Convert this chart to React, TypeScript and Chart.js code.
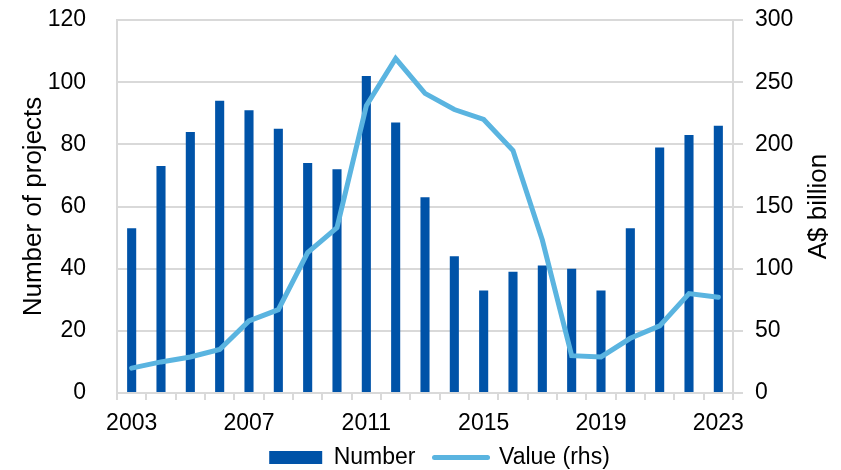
import React, { useEffect, useRef } from "react";
import { Chart, registerables } from "chart.js";

Chart.register(...registerables);

const years = ["2003","2004","2005","2006","2007","2008","2009","2010","2011","2012","2013","2014","2015","2016","2017","2018","2019","2020","2021","2022","2023"];
const numberOfProjects = [53, 73, 84, 94, 91, 85, 74, 72, 102, 87, 63, 44, 33, 39, 41, 40, 33, 53, 79, 83, 86];
const valueRhs = [20, 25, 29, 35, 58, 67, 113, 133, 231, 269, 241, 228, 220, 195, 123, 30, 29, 44, 54, 80, 77];
const leftTitle = "Number of projects";
const rightTitle = "A$ billion";
const barLabel = "Number";
const lineLabel = "Value (rhs)";

const BAR_COLOR = "#0053A8";
const LINE_COLOR = "#5AB4E0";
const GRID_COLOR = "#D9D9D9";
const FONT = "'Liberation Sans', Arial, sans-serif";

const titlesPlugin = {
  id: "axisTitles",
  afterDraw(chart: any) {
    const { ctx, chartArea } = chart;
    const cy = (chartArea.top + chartArea.bottom) / 2;
    const draw = (text: string, x: number) => {
      ctx.save();
      ctx.fillStyle = "#000";
      ctx.font = `26px ${FONT}`;
      ctx.textAlign = "center";
      ctx.textBaseline = "middle";
      ctx.translate(x, cy);
      ctx.rotate(-Math.PI / 2);
      ctx.fillText(text, 0, 0);
      ctx.restore();
    };
    draw(leftTitle, 34);
    draw(rightTitle, 819);
  },
};

export default function App() {
  const ref = useRef<HTMLCanvasElement | null>(null);
  useEffect(() => {
    if (!ref.current) return;
    const chart = new Chart(ref.current, {
      type: "bar",
      data: {
        labels: years,
        datasets: [
          {
            type: "bar",
            label: barLabel,
            data: numberOfProjects,
            backgroundColor: BAR_COLOR,
            borderWidth: 0,
            categoryPercentage: 1,
            barPercentage: 0.31,
            yAxisID: "y",
            order: 1,
          } as any,
          {
            type: "line",
            label: lineLabel,
            data: valueRhs,
            borderColor: LINE_COLOR,
            backgroundColor: LINE_COLOR,
            borderWidth: 5,
            borderCapStyle: "round",
            borderJoinStyle: "miter",
            pointRadius: 0,
            pointHoverRadius: 0,
            tension: 0,
            yAxisID: "y1",
            order: 0,
          } as any,
        ],
      },
      options: {
        responsive: false,
        animation: false,
        layout: { padding: { left: 40, right: 2, top: 20, bottom: -9 } },
        font: { family: FONT },
        plugins: {
          tooltip: { enabled: false },
          legend: {
            position: "bottom",
            labels: {
              color: "#000",
              font: { family: FONT, size: 23 },
              usePointStyle: true,
              pointStyleWidth: 53,
              boxHeight: 13,
              padding: 19,
              generateLabels: () => [
                {
                  text: barLabel,
                  fillStyle: BAR_COLOR,
                  strokeStyle: BAR_COLOR,
                  lineWidth: 0,
                  pointStyle: "rect",
                  datasetIndex: 0,
                  hidden: false,
                },
                {
                  text: lineLabel,
                  fillStyle: LINE_COLOR,
                  strokeStyle: LINE_COLOR,
                  lineWidth: 5,
                  lineCap: "round",
                  pointStyle: "line",
                  datasetIndex: 1,
                  hidden: false,
                },
              ],
            },
          } as any,
        },
        scales: {
          x: {
            offset: true,
            grid: {
              display: true,
              offset: true,
              drawOnChartArea: false,
              drawTicks: true,
              tickLength: 7,
              color: GRID_COLOR,
              lineWidth: 2,
            },
            border: { display: true, color: GRID_COLOR, width: 2 },
            ticks: {
              color: "#000",
              font: { family: FONT, size: 23 },
              padding: 10,
              autoSkip: false,
              maxRotation: 0,
              callback: (_v: any, i: number) => (i % 4 === 0 ? years[i] : ""),
            },
            afterFit: (s: any) => {
              s.height = 34;
              s._computeLabelArea = () => undefined;
            },
          },
          y: {
            position: "left",
            min: 0,
            max: 120,
            ticks: {
              stepSize: 20,
              color: "#000",
              font: { family: FONT, size: 23 },
              padding: 0,
            },
            grid: {
              color: GRID_COLOR,
              lineWidth: 2,
              drawTicks: true,
              tickLength: 31,
              tickColor: "rgba(0,0,0,0)",
            },
            border: { display: true, color: GRID_COLOR, width: 2 },
            afterFit: (s: any) => {
              s.width = 77;
            },
          },
          y1: {
            position: "right",
            min: 0,
            max: 300,
            ticks: {
              stepSize: 50,
              color: "#000",
              font: { family: FONT, size: 23 },
              padding: 0,
            },
            grid: {
              color: GRID_COLOR,
              lineWidth: 2,
              drawOnChartArea: false,
              drawTicks: true,
              tickLength: 22,
              tickBorderDash: [9, 60],
              tickBorderDashOffset: 0,
            },
            border: { display: true, color: GRID_COLOR, width: 2 },
            afterFit: (s: any) => {
              s.width = 106;
            },
          },
        },
      },
      plugins: [titlesPlugin],
    } as any);
    return () => chart.destroy();
  }, []);
  return (
    <div style={{ position: "fixed", left: 0, top: 0, width: 841, height: 470, background: "#fff" }}>
      <canvas ref={ref} width={841} height={470} style={{ display: "block" }} />
    </div>
  );
}
